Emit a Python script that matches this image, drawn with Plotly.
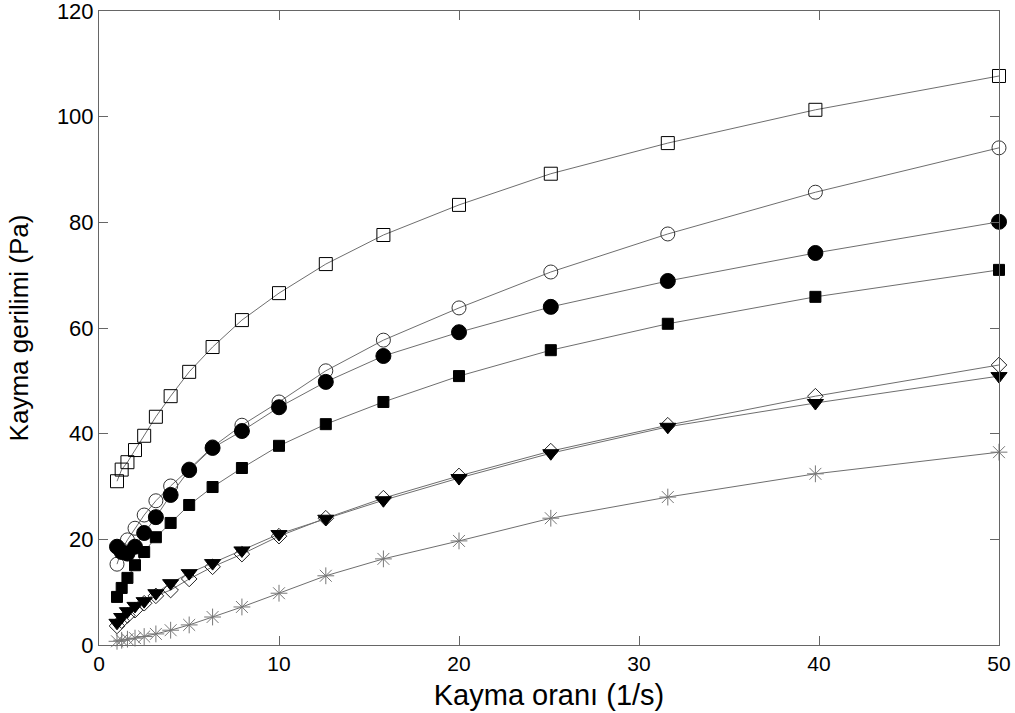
import plotly.graph_objects as go

shear_rate = [1.0, 1.26, 1.58, 2.0, 2.51, 3.16, 3.98, 5.01, 6.31, 7.94,
              10.0, 12.6, 15.8, 20.0, 25.1, 31.6, 39.8, 50.0]

open_square = [31.0, 33.2, 34.6, 36.9, 39.6, 43.2, 47.1, 51.7, 56.4, 61.5,
               66.6, 72.1, 77.6, 83.3, 89.2, 95.0, 101.3, 107.7]
open_circle = [15.3, 18.0, 19.9, 22.1, 24.6, 27.3, 30.1, 33.3, 37.5, 41.6,
               46.0, 51.9, 57.7, 63.8, 70.6, 77.8, 85.7, 94.1]
filled_circle = [18.6, 17.6, 17.3, 18.6, 21.2, 24.2, 28.4, 33.1, 37.3, 40.5,
                 45.0, 49.8, 54.7, 59.2, 64.0, 68.9, 74.2, 80.1]
filled_square = [9.1, 10.8, 12.7, 15.1, 17.6, 20.4, 23.1, 26.5, 29.9, 33.5,
                 37.7, 41.8, 46.0, 50.9, 55.8, 60.8, 65.9, 71.0]
filled_triangle = [4.2, 5.3, 6.4, 7.4, 8.3, 9.8, 11.7, 13.6, 15.5, 17.9,
                   21.0, 23.9, 27.4, 31.6, 36.3, 41.3, 45.8, 50.9]
open_diamond = [3.6, 4.6, 5.6, 6.6, 7.9, 9.3, 10.4, 12.5, 14.8, 17.2,
                20.6, 24.0, 27.8, 32.0, 36.7, 41.6, 47.1, 53.0]
asterisk = [0.7, 0.9, 1.1, 1.3, 1.6, 2.1, 2.8, 3.8, 5.3, 7.2,
            9.8, 13.1, 16.3, 19.7, 24.0, 28.0, 32.4, 36.5]

line_col = "#6e6e6e"

series = [
    (filled_square, "square", 11, "black", "black"),
    (open_square, "square-open", 13, "black", "black"),
    (open_circle, "circle-open", 14, "#333333", "#333333"),
    (filled_circle, "circle", 15, "black", "black"),
    (open_diamond, "diamond-open", 12, "#222222", "#222222"),
    (filled_triangle, "triangle-down", 14, "black", "black"),
    (asterisk, "asterisk-open", 14, "#777777", "#777777"),
]

fig = go.Figure()
for ys, sym, sz, col, lcol in series:
    fig.add_trace(go.Scatter(
        x=shear_rate, y=ys, mode="lines+markers",
        line=dict(color=line_col, width=1),
        marker=dict(symbol=sym, size=sz, color=col,
                    line=dict(color=lcol, width=1)),
        showlegend=False, cliponaxis=False,
    ))

axis_common = dict(
    showgrid=False, zeroline=False, showline=True, linecolor="#666666",
    linewidth=1, mirror="ticks", ticks="inside", ticklen=9,
    tickcolor="#666666", tickwidth=1, automargin=False,
    ticklabeloverflow="allow",
)

fig.update_layout(
    width=1015, height=713,
    margin=dict(l=99, r=16, t=11, b=68),
    plot_bgcolor="white", paper_bgcolor="white",
    font=dict(family="Liberation Sans, Arial, sans-serif", color="black"),
    xaxis=dict(range=[0, 50], tickvals=[0, 10, 20, 30, 40, 50],
               tickfont=dict(size=21, family="Liberation Sans, Arial"),
               title=dict(text="Kayma oranı (1/s)", standoff=10,
                          font=dict(size=29, family="Liberation Sans, Arial")),
               **axis_common),
    yaxis=dict(range=[0, 120], tickvals=[0, 20, 40, 60, 80, 100, 120],
               tickfont=dict(size=22, family="Liberation Sans, Arial"),
               title=dict(text="Kayma gerilimi (Pa)", standoff=20,
                          font=dict(size=26, family="Liberation Sans, Arial")),
               **axis_common),
)

fig.write_html("out.html")
